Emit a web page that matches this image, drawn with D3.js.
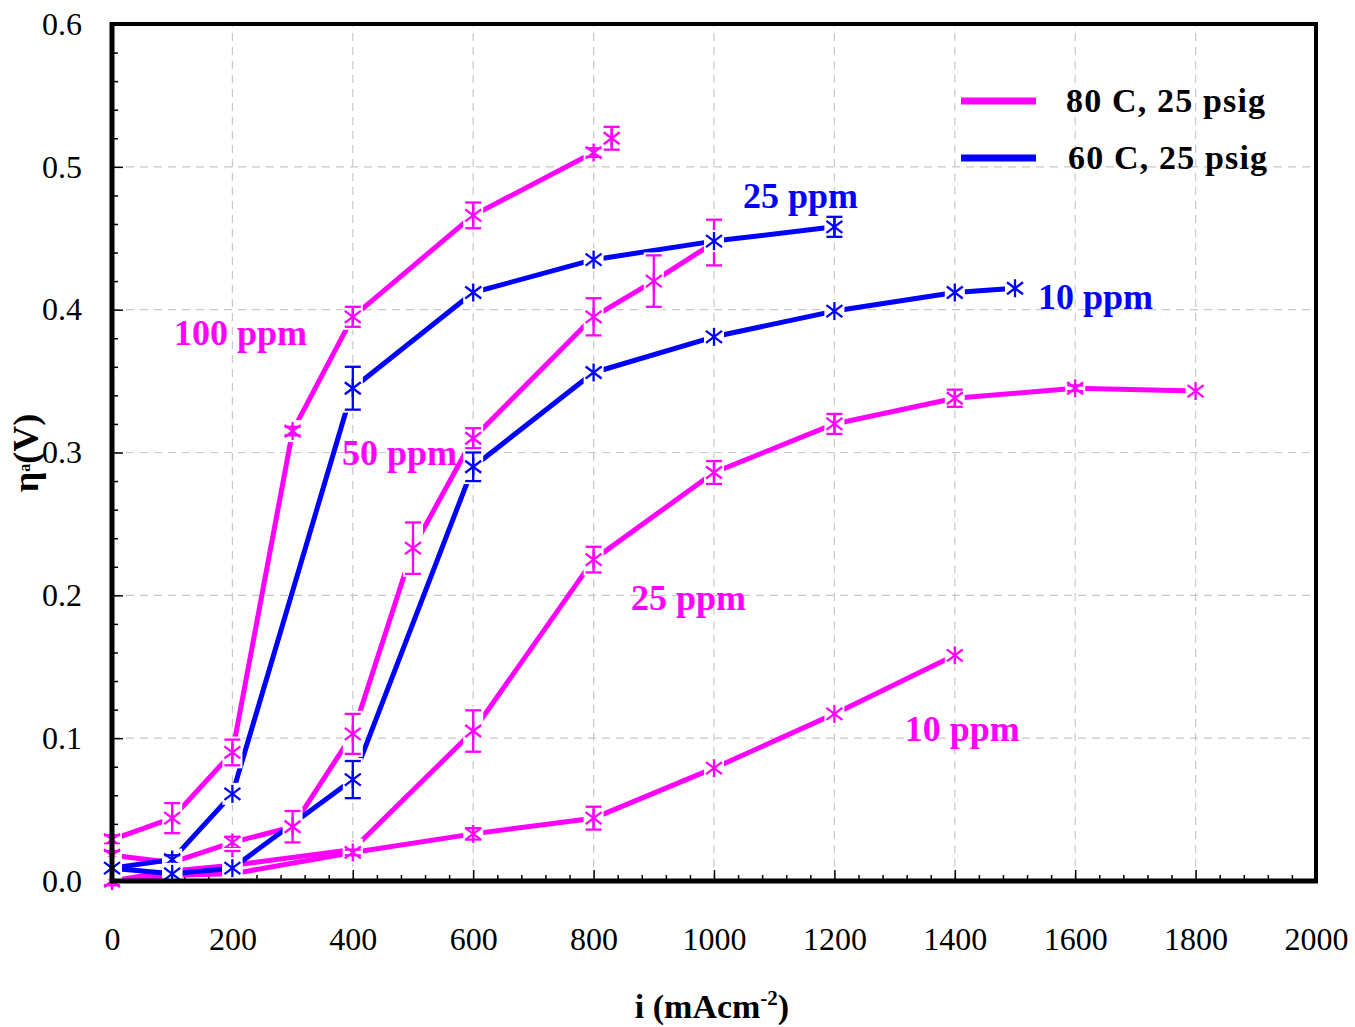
<!DOCTYPE html>
<html>
<head>
<meta charset="utf-8">
<script src="https://cdn.jsdelivr.net/npm/d3@7"></script>
<style>
  html, body { margin: 0; padding: 0; background: #fff; }
  svg { display: block; }
  text { font-family: "Liberation Serif", "Times New Roman", serif; }
</style>
</head>
<body>
<svg id="chart" width="1355" height="1027"></svg>
<script>
// Anode overpotential vs current density, CO contamination levels.
// Each point: [current density (mA/cm2), overpotential (V), error (V)]
const mag100 = [[0,0.029,0.003],[100,0.044,0.0105],[200,0.090,0.009],[300,0.315,0.003],[400,0.395,0.007],[600,0.466,0.009],[800,0.510,0.003]];
const mag100Extra = [[830,0.520,0.008]];
const mag50 = [[0,0.018,0.003],[100,0.013,0.003],[200,0.027,0.004],[300,0.038,0.011],[400,0.103,0.014],[500,0.233,0.018],[600,0.310,0.007],[800,0.395,0.013],[900,0.420,0.018],[1000,0.447,0.016]];
const mag25 = [[0,0.000,0.000],[100,0.007,0.004],[200,0.011,0.010],[400,0.022,0.003],[600,0.105,0.0145],[800,0.225,0.009],[1000,0.286,0.008],[1200,0.320,0.007],[1400,0.338,0.006],[1600,0.345,0.002],[1800,0.343,0]];
const mag10 = [[0,0.000,0.003],[100,0.004,0.002],[200,0.005,0.004],[400,0.020,0.002],[600,0.033,0.004],[800,0.044,0.008],[1000,0.079,0],[1200,0.117,0],[1400,0.158,0]];
const blue25 = [[0,0.009,0],[100,0.015,0.003],[200,0.061,0],[400,0.345,0.015],[600,0.412,0],[800,0.435,0],[1000,0.448,0],[1200,0.458,0.007]];
const blue10 = [[0,0.009,0],[100,0.005,0],[200,0.009,0],[400,0.071,0.013],[600,0.290,0.010],[800,0.356,0],[1000,0.381,0],[1200,0.399,0],[1400,0.412,0],[1500,0.415,0]];

const xTicks = [0,200,400,600,800,1000,1200,1400,1600,1800,2000];
const yTicks = [0,0.1,0.2,0.3,0.4,0.5,0.6];
const legendLabels = ["80 C, 25 psig", "60 C, 25 psig"];
// labels placed by their left edge / baseline in data units
const seriesLabels = [
  {text:"100 ppm", i:103, v:0.375, c:"m"},
  {text:"50 ppm", i:382, v:0.291, c:"m"},
  {text:"25 ppm", i:862, v:0.190, c:"m"},
  {text:"10 ppm", i:1317, v:0.098, c:"m"},
  {text:"25 ppm", i:1048, v:0.471, c:"b"},
  {text:"10 ppm", i:1538, v:0.4005, c:"b"}
];

const MAG = "#ff00ff", BLUE = "#0000ff";
const svg = d3.select("#chart");
const x = d3.scaleLinear().domain([0,2000]).range([112,1316]);
const y = d3.scaleLinear().domain([0,0.6]).range([881,24]);

// grid
const grid = svg.append("g").attr("stroke","#c8c8c8").attr("stroke-width",1.2).attr("stroke-dasharray","8,6");
xTicks.slice(1,-1).forEach(t => grid.append("line").attr("x1",x(t)).attr("x2",x(t)).attr("y1",y(0)).attr("y2",y(0.6)));
yTicks.slice(1,-1).forEach(t => grid.append("line").attr("x1",x(0)).attr("x2",x(2000)).attr("y1",y(t)).attr("y2",y(t)));

// ticks (inward)
const minorX = d3.range(0,2001,40).filter(v => v % 200 !== 0);
const minorY = d3.range(0,0.6001,0.02).filter(v => Math.abs(v*10 - Math.round(v*10)) > 1e-6);
const axB = svg.append("g").attr("transform",`translate(0,${y(0)})`)
  .call(d3.axisBottom(x).tickValues(xTicks).tickSize(-11).tickPadding(46).tickFormat(d3.format("d")));
const axBm = svg.append("g").attr("transform",`translate(0,${y(0)})`)
  .call(d3.axisBottom(x).tickValues(minorX).tickSize(-6).tickFormat(""));
const axL = svg.append("g").attr("transform",`translate(${x(0)},0)`)
  .call(d3.axisLeft(y).tickValues(yTicks).tickSize(-11).tickPadding(30).tickFormat(d3.format(".1f")));
const axLm = svg.append("g").attr("transform",`translate(${x(0)},0)`)
  .call(d3.axisLeft(y).tickValues(minorY).tickSize(-6).tickFormat(""));
[axB,axBm,axL,axLm].forEach(a => {
  a.attr("font-family",null).attr("font-size",null);
  a.select(".domain").remove();
  a.selectAll(".tick line").attr("stroke","#000").attr("stroke-width",1.5);
  a.selectAll(".tick text").attr("fill","#000").style("font-size","32px")
    .style("font-family","'Liberation Serif', serif");
});
axB.selectAll(".tick text").attr("dy","0.71em");

// lines
const line = d3.line().x(d => x(d[0])).y(d => y(d[1]));
const series = [
  {data:mag100, color:MAG}, {data:mag50, color:MAG}, {data:mag25, color:MAG}, {data:mag10, color:MAG},
  {data:blue25, color:BLUE}, {data:blue10, color:BLUE}
];
series.forEach(s => svg.append("path").datum(s.data).attr("d",line)
  .attr("fill","none").attr("stroke",s.color).attr("stroke-width",5).attr("stroke-linejoin","round"));

// markers with error bars
function drawPoints(data, color) {
  const g = svg.append("g");
  data.forEach(d => {
    const cx = x(d[0]), cy = y(d[1]);
    const ep = Math.abs(y(0) - y(d[2]));
    const h = Math.max(22, 2*ep + 6);
    g.append("rect").attr("x",cx-10).attr("y",cy-h/2).attr("width",20).attr("height",h).attr("fill","#fff");
    const p = g.append("g").attr("stroke",color).attr("stroke-width",2.3).attr("fill","none");
    if (d[2] > 0) {
      p.append("line").attr("x1",cx).attr("x2",cx).attr("y1",y(d[1]+d[2])).attr("y2",y(d[1]-d[2]));
      p.append("line").attr("x1",cx-8).attr("x2",cx+8).attr("y1",y(d[1]+d[2])).attr("y2",y(d[1]+d[2]));
      p.append("line").attr("x1",cx-8).attr("x2",cx+8).attr("y1",y(d[1]-d[2])).attr("y2",y(d[1]-d[2]));
    }
    p.append("line").attr("x1",cx).attr("x2",cx).attr("y1",cy-9).attr("y2",cy+9);
    p.append("line").attr("x1",cx-8).attr("x2",cx+8).attr("y1",cy-6).attr("y2",cy+6);
    p.append("line").attr("x1",cx-8).attr("x2",cx+8).attr("y1",cy+6).attr("y2",cy-6);
  });
}
drawPoints(mag100, MAG);
drawPoints(mag100Extra, MAG);
drawPoints(mag50, MAG);
drawPoints(mag25, MAG);
drawPoints(mag10, MAG);
drawPoints(blue25, BLUE);
drawPoints(blue10, BLUE);

// series labels
seriesLabels.forEach(l => svg.append("text").attr("x",x(l.i)).attr("y",y(l.v))
  .attr("fill", l.c === "m" ? MAG : BLUE).style("font-size","36px").style("font-weight","bold")
  .attr("text-anchor","start").text(l.text));

// legend
const leg = [{label:legendLabels[0], color:MAG, yy:101, tx:1066},{label:legendLabels[1], color:BLUE, yy:158, tx:1068}];
leg.forEach(l => {
  svg.append("line").attr("x1",961).attr("x2",1036).attr("y1",l.yy).attr("y2",l.yy)
    .attr("stroke",l.color).attr("stroke-width",7);
  svg.append("text").attr("x",l.tx).attr("y",l.yy+11).attr("fill","#000")
    .style("font-size","34px").style("font-weight","bold").attr("textLength",199).text(l.label);
});

// frame
svg.append("rect").attr("x",x(0)).attr("y",y(0.6)).attr("width",x(2000)-x(0)).attr("height",y(0)-y(0.6))
  .attr("fill","none").attr("stroke","#000").attr("stroke-width",4);
svg.append("line").attr("x1",x(0)).attr("x2",x(0)).attr("y1",y(0.6)-2).attr("y2",y(0)+2).attr("stroke","#000").attr("stroke-width",5);
svg.append("line").attr("x1",x(0)-2).attr("x2",x(2000)+2).attr("y1",y(0)).attr("y2",y(0)).attr("stroke","#000").attr("stroke-width",5);

// axis titles
const xt = svg.append("text").attr("x",712).attr("y",1018).attr("text-anchor","middle")
  .style("font-size","34px").style("font-weight","bold").attr("fill","#000");
xt.append("tspan").text("i (mAcm");
xt.append("tspan").attr("dy",-13).style("font-size","21px").text("-2");
xt.append("tspan").attr("dy",13).text(")");

const yt = svg.append("text").attr("transform","translate(38,453) rotate(-90)").attr("text-anchor","middle")
  .style("font-size","36px").style("font-weight","bold").attr("fill","#000");
yt.append("tspan").text("η");
yt.append("tspan").attr("dy",-8).style("font-size","16px").text("a");
yt.append("tspan").attr("dy",8).text("(V)");
</script>
</body>
</html>
